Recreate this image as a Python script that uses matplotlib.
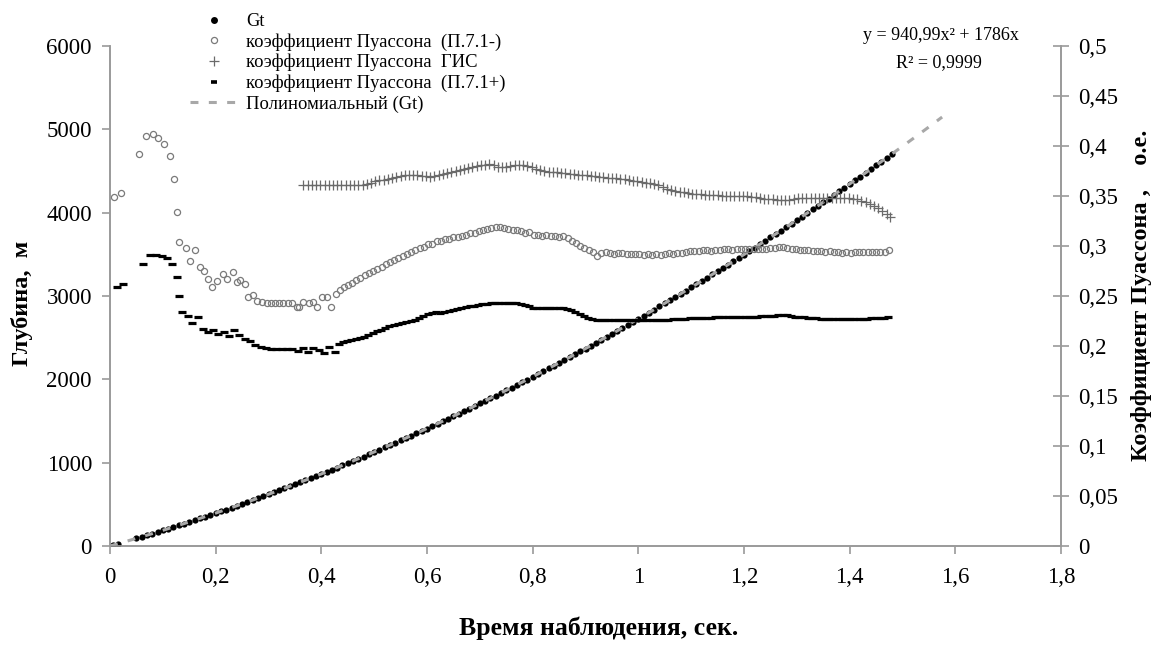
import numpy as np
import matplotlib
matplotlib.use('Agg')
import matplotlib.pyplot as plt
from matplotlib.lines import Line2D
from matplotlib.ticker import FixedLocator, FuncFormatter

plt.rcParams['font.family'] = ['Liberation Serif', 'DejaVu Serif']

# =====данные
# Gt: время (сек) -> глубина (м)
gt_t = [0.005, 0.015] + [round(0.05 + 0.01 * i, 2) for i in range(144)]
gt_h = [9, 27,
        92, 111, 130, 149, 168, 188, 208, 228, 248, 268, 289, 310, 331, 352, 373, 395, 417, 438, 461, 483,
        505, 528, 551, 574, 597, 620, 644, 668, 692, 716, 740, 765, 790, 815, 840, 865, 890, 916, 942, 968,
        994, 1021, 1047, 1074, 1101, 1128, 1156, 1183, 1211, 1239, 1267, 1295, 1324, 1352, 1381, 1410, 1440,
        1469, 1499, 1528, 1558, 1589, 1619, 1650, 1680, 1711, 1742, 1774, 1805, 1837, 1869, 1901, 1933, 1966,
        1998, 2031, 2064, 2097, 2131, 2164, 2198, 2232, 2266, 2300, 2335, 2370, 2404, 2440, 2475, 2510, 2546,
        2582, 2618, 2654, 2690, 2727, 2764, 2801, 2838, 2875, 2913, 2950, 2988, 3026, 3065, 3103, 3142, 3181,
        3220, 3259, 3298, 3338, 3378, 3418, 3458, 3498, 3539, 3580, 3620, 3662, 3703, 3744, 3786, 3828, 3870,
        3912, 3954, 3997, 4040, 4083, 4126, 4169, 4213, 4257, 4301, 4345, 4389, 4434, 4478, 4523, 4568, 4613,
        4659, 4704]

# полиномиальный тренд (коэффициенты из подписи на графике)
trend_coef = [940.99, 1786.0, 0.0]
trend_t_end = 1.575

# коэффициент Пуассона (П.7.1-)
pm_t = [0.008, 0.020, 0.055, 0.069, 0.081, 0.091, 0.102, 0.114, 0.122, 0.126, 0.131, 0.143, 0.151, 0.161,
        0.170, 0.178, 0.186, 0.194, 0.202, 0.213, 0.221, 0.232, 0.240, 0.247, 0.256, 0.261, 0.270, 0.278,
        0.287, 0.297, 0.305, 0.312, 0.320, 0.328, 0.336, 0.344, 0.353, 0.357, 0.366, 0.376, 0.385, 0.392,
        0.402, 0.411, 0.418, 0.428, 0.435,
        0.442, 0.450, 0.458, 0.466, 0.474, 0.482, 0.490, 0.498, 0.506, 0.514, 0.522, 0.530, 0.538, 0.546,
        0.554, 0.562, 0.570, 0.578, 0.586, 0.594, 0.602, 0.610, 0.618, 0.626, 0.634, 0.642, 0.650, 0.658,
        0.666, 0.674, 0.682, 0.690, 0.698, 0.706, 0.714, 0.722, 0.730, 0.738, 0.746, 0.754, 0.762, 0.770,
        0.778, 0.786, 0.794, 0.802, 0.810, 0.818, 0.826, 0.834, 0.842, 0.850, 0.858, 0.866, 0.874, 0.882,
        0.890, 0.898, 0.906, 0.914, 0.922, 0.930, 0.938, 0.946, 0.954, 0.962, 0.970, 0.978, 0.986, 0.994,
        1.002, 1.010, 1.018, 1.026, 1.034, 1.042, 1.050, 1.058, 1.066, 1.074, 1.082, 1.090, 1.098, 1.106,
        1.114, 1.122, 1.130, 1.138, 1.146, 1.154, 1.162, 1.170, 1.178, 1.186, 1.194, 1.202, 1.210, 1.218,
        1.226, 1.234, 1.242, 1.250, 1.258, 1.266, 1.274, 1.282, 1.290, 1.298, 1.306, 1.314, 1.322, 1.330,
        1.338, 1.346, 1.354, 1.362, 1.370, 1.378, 1.386, 1.394, 1.402, 1.410, 1.418, 1.426, 1.434, 1.442,
        1.450, 1.458, 1.466, 1.474]
pm_v = [0.349, 0.353, 0.392, 0.410, 0.412, 0.408, 0.402, 0.390, 0.367, 0.334, 0.304, 0.298, 0.285, 0.296,
        0.279, 0.275, 0.267, 0.259, 0.265, 0.272, 0.267, 0.274, 0.264, 0.266, 0.262, 0.249, 0.251, 0.245,
        0.244, 0.243, 0.243, 0.243, 0.243, 0.243, 0.243, 0.243, 0.239, 0.239, 0.244, 0.243, 0.244, 0.239,
        0.249, 0.249, 0.239, 0.252, 0.256,
        0.259, 0.261, 0.263, 0.266, 0.268, 0.271, 0.273, 0.275, 0.277, 0.279, 0.282, 0.284, 0.286, 0.288,
        0.290, 0.292, 0.294, 0.296, 0.298, 0.299, 0.302, 0.302, 0.305, 0.305, 0.307, 0.307, 0.309, 0.309,
        0.310, 0.311, 0.313, 0.313, 0.315, 0.316, 0.317, 0.318, 0.319, 0.319, 0.318, 0.317, 0.316, 0.316,
        0.315, 0.313, 0.314, 0.311, 0.311, 0.310, 0.311, 0.310, 0.310, 0.309, 0.310, 0.308, 0.305, 0.303,
        0.300, 0.298, 0.296, 0.294, 0.290, 0.293, 0.294, 0.293, 0.292, 0.293, 0.293, 0.292, 0.292, 0.292,
        0.292, 0.291, 0.292, 0.291, 0.292, 0.291, 0.292, 0.293, 0.292, 0.293, 0.293, 0.294, 0.295, 0.295,
        0.295, 0.296, 0.296, 0.295, 0.296, 0.296, 0.297, 0.297, 0.296, 0.297, 0.297, 0.297, 0.297, 0.297,
        0.297, 0.297, 0.297, 0.298, 0.298, 0.299, 0.299, 0.298, 0.297, 0.297, 0.296, 0.296, 0.296, 0.295,
        0.295, 0.295, 0.294, 0.295, 0.294, 0.294, 0.293, 0.294, 0.293, 0.294, 0.294, 0.294, 0.294, 0.294,
        0.294, 0.294, 0.294, 0.296]

# коэффициент Пуассона ГИС
gis_t = [0.366, 0.374, 0.382, 0.390, 0.398, 0.406, 0.414, 0.422, 0.430, 0.438, 0.446, 0.454, 0.462, 0.470,
         0.478, 0.486, 0.494, 0.502, 0.510, 0.518, 0.526, 0.534, 0.542, 0.550, 0.558, 0.566, 0.574, 0.582,
         0.590, 0.598, 0.606, 0.614, 0.622, 0.630, 0.638, 0.646, 0.654, 0.662, 0.670, 0.678, 0.686, 0.694,
         0.702, 0.710, 0.718, 0.726, 0.734, 0.742, 0.750, 0.758, 0.766, 0.774, 0.782, 0.790, 0.798, 0.806,
         0.814, 0.822, 0.830, 0.838, 0.846, 0.854, 0.862, 0.870, 0.878, 0.886, 0.894, 0.902, 0.910, 0.918,
         0.926, 0.934, 0.942, 0.950, 0.958, 0.966, 0.974, 0.982, 0.990, 0.998, 1.006, 1.014, 1.022, 1.030,
         1.038, 1.046, 1.054, 1.062, 1.070, 1.078, 1.086, 1.094, 1.102, 1.110, 1.118, 1.126, 1.134, 1.142,
         1.150, 1.158, 1.166, 1.174, 1.182, 1.190, 1.198, 1.206, 1.214, 1.222, 1.230, 1.238, 1.246, 1.254,
         1.262, 1.270, 1.278, 1.286, 1.294, 1.302, 1.310, 1.318, 1.326, 1.334, 1.342, 1.350, 1.358, 1.366,
         1.374, 1.382, 1.390, 1.398, 1.406, 1.414, 1.422, 1.430, 1.438, 1.446, 1.454, 1.462, 1.470, 1.476]
gis_v = [0.361, 0.361, 0.361, 0.361, 0.361, 0.361, 0.361, 0.361, 0.361, 0.361, 0.361, 0.361, 0.361, 0.361,
         0.361, 0.362, 0.363, 0.365, 0.366, 0.366, 0.367, 0.368, 0.369, 0.370, 0.371, 0.371, 0.371, 0.371,
         0.370, 0.370, 0.369, 0.370, 0.371, 0.372, 0.373, 0.374, 0.375, 0.376, 0.377, 0.378, 0.379, 0.380,
         0.381, 0.381, 0.382, 0.381, 0.379, 0.379, 0.379, 0.380, 0.381, 0.381, 0.381, 0.380, 0.379, 0.377,
         0.376, 0.375, 0.374, 0.374, 0.374, 0.373, 0.373, 0.372, 0.372, 0.371, 0.371, 0.371, 0.370, 0.370,
         0.369, 0.369, 0.368, 0.368, 0.368, 0.367, 0.367, 0.366, 0.365, 0.365, 0.364, 0.363, 0.363, 0.362,
         0.361, 0.359, 0.357, 0.356, 0.355, 0.354, 0.354, 0.353, 0.352, 0.352, 0.352, 0.351, 0.351, 0.351,
         0.351, 0.350, 0.350, 0.350, 0.350, 0.350, 0.350, 0.350, 0.349, 0.349, 0.348, 0.347, 0.347, 0.347,
         0.346, 0.346, 0.346, 0.346, 0.347, 0.348, 0.348, 0.348, 0.348, 0.348, 0.348, 0.348, 0.348, 0.348,
         0.348, 0.348, 0.348, 0.348, 0.347, 0.347, 0.345, 0.344, 0.342, 0.340, 0.338, 0.335, 0.332, 0.329]

# коэффициент Пуассона (П.7.1+)
pp_t = [0.013, 0.024, 0.062, 0.076, 0.087, 0.098, 0.108, 0.118, 0.126, 0.131, 0.137, 0.147, 0.156, 0.167,
        0.176, 0.185, 0.195, 0.205, 0.215, 0.225, 0.235, 0.245, 0.255, 0.265, 0.275, 0.285, 0.295, 0.305,
        0.315, 0.325, 0.335, 0.345, 0.355, 0.365, 0.375, 0.385, 0.395, 0.405, 0.415, 0.425,
        0.433, 0.441, 0.449, 0.457, 0.465, 0.473, 0.481, 0.489, 0.497, 0.505, 0.513, 0.521, 0.529, 0.537,
        0.545, 0.553, 0.561, 0.569, 0.577, 0.585, 0.593, 0.601, 0.609, 0.617, 0.625, 0.633, 0.641, 0.649,
        0.657, 0.665, 0.673, 0.681, 0.689, 0.697, 0.705, 0.713, 0.721, 0.729, 0.737, 0.745, 0.753, 0.761,
        0.769, 0.777, 0.785, 0.793, 0.801, 0.809, 0.817, 0.825, 0.833, 0.841, 0.849, 0.857, 0.865, 0.873,
        0.881, 0.889, 0.897, 0.905, 0.913, 0.921, 0.929, 0.937, 0.945, 0.953, 0.961, 0.969, 0.977, 0.985,
        0.993, 1.001, 1.009, 1.017, 1.025, 1.033, 1.041, 1.049, 1.057, 1.065, 1.073, 1.081, 1.089, 1.097,
        1.105, 1.113, 1.121, 1.129, 1.137, 1.145, 1.153, 1.161, 1.169, 1.177, 1.185, 1.193, 1.201, 1.209,
        1.217, 1.225, 1.233, 1.241, 1.249, 1.257, 1.265, 1.273, 1.281, 1.289, 1.297, 1.305, 1.313, 1.321,
        1.329, 1.337, 1.345, 1.353, 1.361, 1.369, 1.377, 1.385, 1.393, 1.401, 1.409, 1.417, 1.425, 1.433,
        1.441, 1.449, 1.457, 1.465, 1.473]
pp_v = [0.259, 0.262, 0.282, 0.291, 0.291, 0.290, 0.288, 0.282, 0.269, 0.250, 0.234, 0.230, 0.223, 0.229,
        0.217, 0.214, 0.216, 0.212, 0.214, 0.210, 0.216, 0.211, 0.207, 0.205, 0.201, 0.199, 0.198, 0.197,
        0.197, 0.197, 0.197, 0.197, 0.195, 0.198, 0.194, 0.198, 0.196, 0.193, 0.199, 0.194,
        0.202, 0.204, 0.205, 0.206, 0.207, 0.208, 0.209, 0.211, 0.213, 0.215, 0.216, 0.218, 0.220, 0.221,
        0.222, 0.223, 0.224, 0.225, 0.226, 0.228, 0.230, 0.232, 0.233, 0.234, 0.233, 0.234, 0.235, 0.236,
        0.237, 0.238, 0.239, 0.240, 0.240, 0.241, 0.242, 0.242, 0.243, 0.243, 0.243, 0.243, 0.243, 0.243,
        0.243, 0.242, 0.241, 0.240, 0.238, 0.238, 0.238, 0.238, 0.238, 0.238, 0.238, 0.238, 0.237, 0.236,
        0.234, 0.232, 0.230, 0.228, 0.227, 0.226, 0.226, 0.226, 0.226, 0.226, 0.226, 0.226, 0.226, 0.226,
        0.226, 0.226, 0.226, 0.226, 0.226, 0.226, 0.226, 0.226, 0.226, 0.227, 0.227, 0.227, 0.227, 0.228,
        0.228, 0.228, 0.228, 0.228, 0.228, 0.229, 0.229, 0.229, 0.229, 0.229, 0.229, 0.229, 0.229, 0.229,
        0.229, 0.229, 0.230, 0.230, 0.230, 0.230, 0.231, 0.231, 0.231, 0.230, 0.229, 0.229, 0.229, 0.228,
        0.228, 0.228, 0.227, 0.227, 0.227, 0.227, 0.227, 0.227, 0.227, 0.227, 0.227, 0.227, 0.227, 0.227,
        0.228, 0.228, 0.228, 0.228, 0.229]

x_ticks = [0, 0.2, 0.4, 0.6, 0.8, 1.0, 1.2, 1.4, 1.6, 1.8]
h_ticks = [0, 1000, 2000, 3000, 4000, 5000, 6000]
p_ticks = [0, 0.05, 0.1, 0.15, 0.2, 0.25, 0.3, 0.35, 0.4, 0.45, 0.5]

label_gt = 'Gt'
label_pm = 'коэффициент Пуассона  (П.7.1-)'
label_gis = 'коэффициент Пуассона  ГИС'
label_pp = 'коэффициент Пуассона  (П.7.1+)'
label_trend = 'Полиномиальный (Gt)'


def comma(v, pos=None):
    s = ('%.2f' % v).rstrip('0').rstrip('.')
    return s.replace('.', ',')


axis_color = '#9a9a9a'
tick_fs = 16.5

fig = plt.figure(figsize=(11.61, 6.45), dpi=100)
ax = fig.add_axes([110 / 1161, 1 - 546 / 645, 951 / 1161, 500 / 645])
ax2 = ax.twinx()

# глубина
h_gt, = ax.plot(gt_t, gt_h, linestyle='none', marker='o', ms=4.5, color='black', mew=0, zorder=3)
trend_t = np.linspace(0, trend_t_end, 200)
h_trend, = ax.plot(trend_t, np.polyval(trend_coef, trend_t), color='#a8a8a8', lw=2.2,
                   linestyle=(0, (2.6, 3.4)), zorder=4)

# коэффициент Пуассона
h_pm, = ax2.plot(pm_t, pm_v, linestyle='none', marker='o', ms=4.4, mfc='none', mec='#7a7a7a', mew=0.9)
h_gis, = ax2.plot(gis_t, gis_v, linestyle='none', marker='+', ms=7, color='#6a6a6a', mew=0.9)
h_pp, = ax2.plot(pp_t, pp_v, linestyle='none', marker='_', ms=5.5, color='black', mew=2.3)

ax.set_xlim(0, 1.8)
ax.set_ylim(0, 6000)
ax2.set_ylim(0, 0.5)
ax.xaxis.set_major_locator(FixedLocator(x_ticks))
ax.yaxis.set_major_locator(FixedLocator(h_ticks))
ax2.yaxis.set_major_locator(FixedLocator(p_ticks))
ax.xaxis.set_major_formatter(FuncFormatter(comma))
ax.yaxis.set_major_formatter(FuncFormatter(lambda v, p: '%d' % v))
ax2.yaxis.set_major_formatter(FuncFormatter(comma))

for a in (ax, ax2):
    a.spines['top'].set_visible(False)
    for s in ('left', 'right', 'bottom'):
        a.spines[s].set_color(axis_color)
        a.spines[s].set_linewidth(1.2)
ax.tick_params(axis='both', colors=axis_color, labelcolor='black', labelsize=tick_fs, length=6, width=1.2)
ax.tick_params(axis='x', pad=9)
ax.tick_params(axis='y', pad=7)
ax2.tick_params(axis='y', direction='inout', colors=axis_color, labelcolor='black', labelsize=tick_fs,
                length=11, width=1.2, pad=7)

fig.text(22 / 1161, 1 - 303 / 645, 'Глубина,  м', rotation=90, ha='center', va='center',
         fontsize=17.5, fontweight='bold')
fig.text(1142 / 1161, 1 - 295 / 645, 'Коэффициент Пуассона ,    о.е.', rotation=90, ha='center',
         va='center', fontsize=17.5, fontweight='bold')
fig.text(599 / 1161, 1 - 628 / 645, 'Время наблюдения, сек.', ha='center', va='center',
         fontsize=18.5, fontweight='bold')

fig.text(941 / 1161, 1 - 36 / 645, 'y = 940,99x² + 1786x', ha='center', va='center', fontsize=13)
fig.text(939 / 1161, 1 - 63 / 645, 'R² = 0,9999', ha='center', va='center', fontsize=13)

# значки легенды как в оригинале (короткий штрих, крупная точка)
lg_gt = Line2D([], [], linestyle='none', marker='o', ms=5, color='black', mew=0)
lg_pp = Line2D([], [], linestyle='none', marker='_', ms=3.8, color='black', mew=2.6)
leg = fig.legend([lg_gt, h_pm, h_gis, lg_pp, h_trend], [label_gt, label_pm, label_gis, label_pp, label_trend],
                 loc='upper left', bbox_to_anchor=(190 / 1161, 1 - 13 / 645), frameon=False,
                 fontsize=13.4, handlelength=2.6, handletextpad=0.42, labelspacing=0.17, borderpad=0,
                 borderaxespad=0, numpoints=1)

fig.savefig('out.png', dpi=100)
